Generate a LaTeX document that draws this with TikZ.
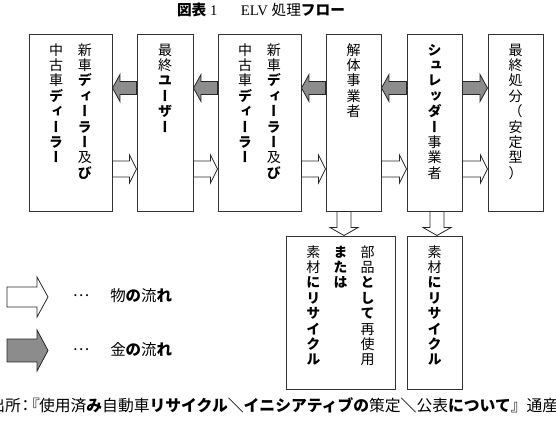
\documentclass[tikz,border=0pt]{standalone}
\usepackage{fontspec}
\setmainfont{Liberation Serif}
\newfontfamily\jp{Noto Sans CJK JP}
\newfontfamily\jpv{Noto Sans CJK JP}[RawFeature=+vert]
\usetikzlibrary{positioning,fit,calc}

% vertical column of characters: \vB bold, \vR regular, \vP upright font, \vV vertical font
\makeatletter
\def\vB{vB}\def\vR{vR}\def\vP{vP}\def\vV{vV}\def\vE{vE}
\newcommand\vcol[1]{\vtop{\offinterlineskip\jpv\vcol@#1\vE}}
\def\vcol@#1{%
  \ifx#1\vE\let\vcol@next\relax
  \else\let\vcol@next\vcol@
    \ifx#1\vB\bfseries
    \else\ifx#1\vR\mdseries
    \else\ifx#1\vP\jp
    \else\ifx#1\vV\jpv
    \else\hbox to 1em{\hss\vrule width\z@ height .95em depth .15em\relax#1\hss}%
    \fi\fi\fi\fi
  \fi\vcol@next}
\makeatother

% block arrow from tail point to tip point
\newcommand\flow[3][]{%
  \draw[#1] let \p1=(#2), \p2=(#3),
      \n1={veclen(\x2-\x1,\y2-\y1)}, \n2={(\x2-\x1)/\n1}, \n3={(\y2-\y1)/\n1} in
    ({\x1-\n3*\arS},{\y1+\n2*\arS}) -- ({\x2-\n2*\arL-\n3*\arS},{\y2-\n3*\arL+\n2*\arS})
    -- ({\x2-\n2*\arL-\n3*\arH},{\y2-\n3*\arL+\n2*\arH}) -- (\x2,\y2)
    -- ({\x2-\n2*\arL+\n3*\arH},{\y2-\n3*\arL-\n2*\arH})
    -- ({\x2-\n2*\arL+\n3*\arS},{\y2-\n3*\arL-\n2*\arS})
    -- ({\x1+\n3*\arS},{\y1-\n2*\arS}) -- cycle;}

\tikzset{
  arrow dims/.code args={#1/#2/#3}{\def\arS{#1}\def\arH{#2}\def\arL{#3}},
  box/.style={draw=black!80, line width=.75pt, inner sep=0pt},
  vtext/.style={inner sep=0pt, font=\fontsize{10.5}{12}\selectfont},
  goods/.style={draw=black!85, fill=white, line width=.6pt, arrow dims=6pt/10.5pt/5.25pt},
  money/.style={draw=black!85, fill=black!45, line width=.6pt, arrow dims=4.9pt/10.1pt/5.6pt},
  legtext/.style={inner sep=0pt, font=\jp\fontsize{11.6}{13}\selectfont},
}

\begin{document}
\begin{tikzpicture}[x=0.75pt,y=-0.75pt]
\useasboundingbox (0,0) rectangle (556,425);
\clip (0,0) rectangle (556,425);

\node[font=\fontsize{11}{13}\selectfont] (title) at (261,10)
  {{\jp\bfseries 図表}\ 1\hspace{1.6em}ELV {\jp 処理\bfseries フロー}};

% boxes
\node[box, fit={(29,34)(112,211)}] (newdealer) {};
\node[box, fit={(137,34)(193,211)}] (user) {};
\node[box, fit={(218,34)(301,211)}] (dealer) {};
\node[box, fit={(326,34)(381,211)}] (dismantler) {};
\node[box, fit={(407,34)(462,211)}] (shredder) {};
\node[box, fit={(488,34)(543,211)}] (landfill) {};
\node[box, fit={(286,236)(395,389)}] (reuse) {};
\node[box, fit={(407,236)(462,389)}] (recycle) {};

% box texts
\node[vtext, below=6pt of newdealer.north] (newdealertxt)
  {\vcol{中古車\vB ディーラー}\hskip1.07em\vcol{新車\vB ディーラー\vR 及\vB び}};
\node[vtext, below=6pt of user.north] (usertxt) {\vcol{最終\vB ユーザー}};
\node[vtext, below=6pt of dealer.north] (dealertxt)
  {\vcol{中古車\vB ディーラー}\hskip1.07em\vcol{新車\vB ディーラー\vR 及\vB び}};
\node[vtext, below=6pt of dismantler.north] (dismantlertxt) {\vcol{解体事業者}};
\node[vtext, below=6pt of shredder.north] (shreddertxt) {\vcol{\vB シュレッダー\vR 事業者}};
\node[vtext, below=6pt of landfill.north] (landfilltxt) {\vcol{最終処分\vP （\vV 安定型\vP ）}};
\node[vtext, below=6pt of reuse.north] (reusetxt)
  {\vcol{素材\vB にリサイクル}\hskip.93em\vcol{\vB または}\hskip.93em\vcol{部品\vB として\vR 再使用}};
\node[vtext, below=6pt of recycle.north] (recycletxt) {\vcol{素材\vB にリサイクル}};

% flows
\coordinate (moneyY) at (0,88);
\coordinate (goodsY) at (0,169);
\coordinate (downA) at (344,0);
\coordinate (downB) at (437,0);
\foreach \a/\b in {newdealer/user,user/dealer,dealer/dismantler,dismantler/shredder,shredder/landfill}
  {\flow[goods]{\a.east |- goodsY}{\b.west |- goodsY}}
\foreach \a/\b in {user/newdealer,dealer/user,dismantler/dealer,shredder/dismantler}
  {\flow[money]{\a.west |- moneyY}{\b.east |- moneyY}}
\flow[money]{shredder.east |- moneyY}{landfill.west |- moneyY}
\flow[goods, arrow dims=5.25pt/10.5pt/6pt]{dismantler.south -| downA}{reuse.north -| downA}
\flow[goods, arrow dims=5.25pt/10.5pt/6pt]{shredder.south -| downB}{recycle.north -| downB}

% legend
\coordinate (legGoodsA) at (7,297);
\coordinate (legGoodsB) at (48,297);
\coordinate (legMoneyA) at (7,350.5);
\coordinate (legMoneyB) at (48,350.5);
\flow[goods, arrow dims=7.5pt/15pt/8.25pt]{legGoodsA}{legGoodsB}
\flow[money, arrow dims=8.6pt/15.4pt/8.25pt]{legMoneyA}{legMoneyB}
\node[legtext] (goodsdots) at (81,296) {…};
\node[legtext] (moneydots) at (81,350) {…};
\node[legtext, anchor=west] (goodslabel) at (110,296) {物\textbf{の}流\textbf{れ}};
\node[legtext, anchor=west] (moneylabel) at (110,350) {金\textbf{の}流\textbf{れ}};

% source
\node[inner sep=0pt, anchor=west, font=\jp\fontsize{11.85}{13}\selectfont] (source) at (-11,405)
  {出所\kern-.2em：\kern-.6em『\kern-.05em 使用済\textbf{み}自動車\textbf{リサイクル＼イニシアティブの}策定\textbf{＼}公表\textbf{について}』通産};
\end{tikzpicture}
\end{document}
